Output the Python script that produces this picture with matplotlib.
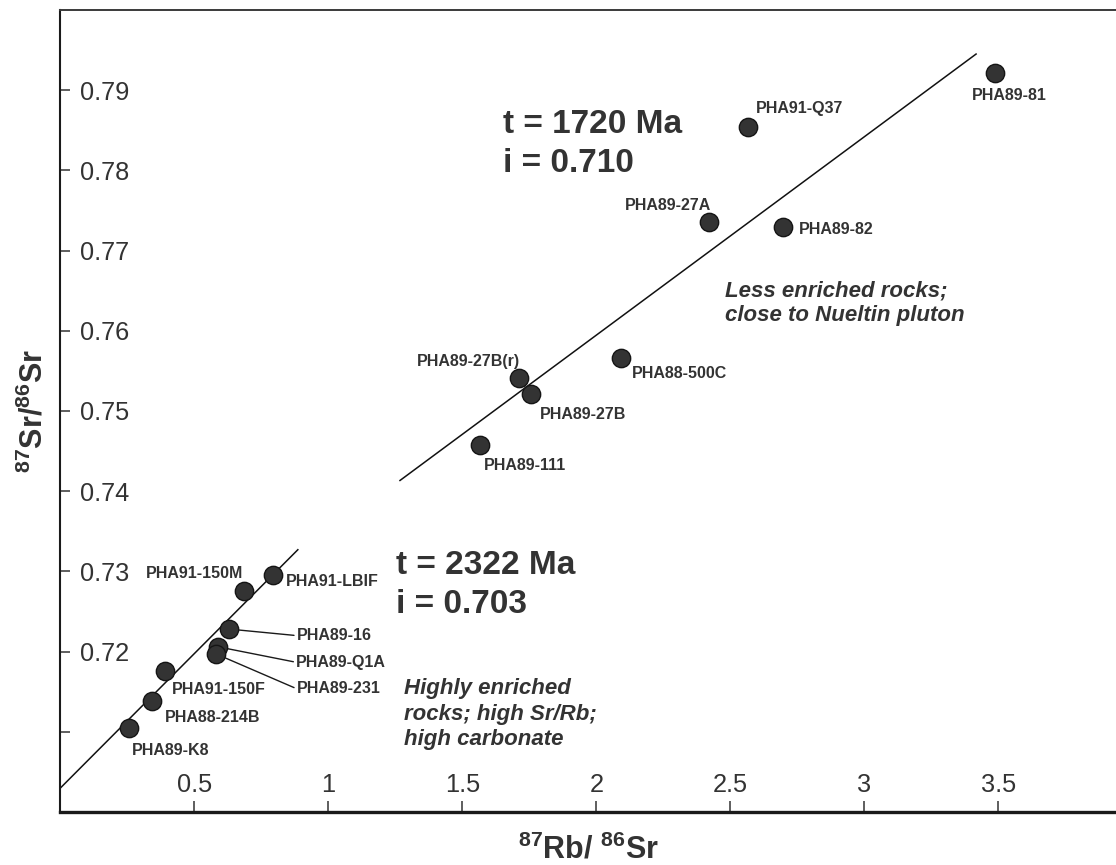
import numpy as np
import matplotlib
matplotlib.use("Agg")
import matplotlib.pyplot as plt

plt.rcParams["font.family"] = ["Liberation Sans", "DejaVu Sans"]
plt.rcParams["mathtext.fontset"] = "custom"
plt.rcParams["mathtext.rm"] = "Liberation Sans"
plt.rcParams["mathtext.bf"] = "Liberation Sans:bold"
plt.rcParams["mathtext.it"] = "Liberation Sans:italic"

# ---- sample data: 87Rb/86Sr and 87Sr/86Sr ----
samples = [
    "PHA89-81", "PHA91-Q37", "PHA89-27A", "PHA89-82", "PHA88-500C",
    "PHA89-27B(r)", "PHA89-27B", "PHA89-111",
    "PHA91-LBIF", "PHA91-150M", "PHA89-16", "PHA89-Q1A", "PHA89-231",
    "PHA91-150F", "PHA88-214B", "PHA89-K8",
]
rb_sr = [3.49, 2.566, 2.42, 2.697, 2.092,
         1.713, 1.755, 1.567,
         0.7925, 0.6866, 0.6306, 0.5873, 0.581,
         0.3907, 0.3433, 0.2575]
sr_sr = [0.7922, 0.7854, 0.7735, 0.7729, 0.7566,
         0.7541, 0.7521, 0.7458,
         0.7295, 0.7275, 0.7228, 0.7206, 0.7197,
         0.7176, 0.7138, 0.7105]

# ---- isochrons (age in Ma, initial ratio) ----
isochron_age_ma = [1720, 2322]
isochron_initial = [0.710, 0.703]
isochron_x_span = [(1.265, 3.42), (0.0, 0.888)]
LAMBDA_RB87 = 1.42e-11  # per year

x_ticks = [0.5, 1, 1.5, 2, 2.5, 3, 3.5]
x_tick_labels = ["0.5", "1", "1.5", "2", "2.5", "3", "3.5"]
y_ticks = [0.71, 0.72, 0.73, 0.74, 0.75, 0.76, 0.77, 0.78, 0.79]
y_tick_labels = ["", "0.72", "0.73", "0.74", "0.75", "0.76", "0.77", "0.78", "0.79"]

# ---- label placement: offset (points), alignment, leader line ----
label_layout = {
    "PHA89-81": (10.1, -15.3, "center", False),
    "PHA91-Q37": (5.8, 14.2, "left", False),
    "PHA89-27A": (1.4, 13.0, "right", False),
    "PHA89-82": (11.5, -0.5, "left", False),
    "PHA88-500C": (7.7, -10.1, "left", False),
    "PHA89-27B(r)": (0.5, 13.2, "right", False),
    "PHA89-27B": (6.9, -13.7, "left", False),
    "PHA89-111": (2.7, -14.2, "left", False),
    "PHA91-LBIF": (9.6, -3.4, "left", False),
    "PHA91-150M": (-0.7, 13.7, "right", False),
    "PHA89-16": (48.5, -3.6, "left", True),
    "PHA89-Q1A": (56.4, -10.1, "left", True),
    "PHA89-231": (58.1, -24.0, "left", True),
    "PHA91-150F": (4.8, -12.2, "left", False),
    "PHA88-214B": (9.1, -10.8, "left", False),
    "PHA89-K8": (1.7, -15.1, "left", False),
}

INK = "#333333"

fig = plt.figure(figsize=(11.16, 8.65), dpi=100)
ax = fig.add_axes([0.0542, 0.0613, 0.9458, 0.9272])
ax.set_xlim(0, 3.94)
ax.set_ylim(0.70, 0.80)

# isochron lines
for age, i0, (x0, x1) in zip(isochron_age_ma, isochron_initial, isochron_x_span):
    slope = np.exp(LAMBDA_RB87 * age * 1e6) - 1.0
    xs = np.array([x0, x1])
    ax.plot(xs, i0 + slope * xs, color="#111111", lw=1.1, zorder=2,
            solid_capstyle="butt")

# samples
ax.plot(rb_sr, sr_sr, linestyle="none", marker="o", markersize=13.2,
        markerfacecolor="#333333", markeredgecolor="#151515",
        markeredgewidth=1.0, zorder=5)

for name, x, y in zip(samples, rb_sr, sr_sr):
    dx, dy, ha, leader = label_layout[name]
    arrow = None
    if leader:
        arrow = dict(arrowstyle="-", color="#1a1a1a", lw=1.0,
                     shrinkA=0, shrinkB=0, relpos=(0.0, 0.5))
    ax.annotate(name, xy=(x, y), xytext=(dx, dy), textcoords="offset points",
                ha=ha, va="center_baseline", fontsize=11.5, fontweight="bold",
                color=INK, arrowprops=arrow, zorder=3)

# isochron annotations (anchored at the baseline of the last line)
for age, i0, pos in zip(isochron_age_ma, isochron_initial,
                        [(0.4192, 0.798), (0.3174, 0.2481)]):
    ax.text(pos[0], pos[1], f"t = {age} Ma\ni = {i0:.3f}",
            transform=ax.transAxes, ha="left", va="baseline",
            fontsize=24, fontweight="bold", color=INK, linespacing=1.35)

ax.text(0.6296, 0.6118, "Less enriched rocks;\nclose to Nueltin pluton",
        transform=ax.transAxes, ha="left", va="baseline", fontsize=16,
        fontweight="bold", fontstyle="italic", color=INK, linespacing=1.23)
ax.text(0.3259, 0.0839, "Highly enriched\nrocks; high Sr/Rb;\nhigh carbonate",
        transform=ax.transAxes, ha="left", va="baseline", fontsize=16,
        fontweight="bold", fontstyle="italic", color=INK, linespacing=1.26)

# axes styling
ax.spines["right"].set_visible(False)
ax.spines["left"].set_linewidth(1.5)
ax.spines["left"].set_color("#1a1a1a")
ax.spines["bottom"].set_linewidth(2.4)
ax.spines["bottom"].set_color("#1a1a1a")
ax.spines["top"].set_linewidth(1.4)
ax.spines["top"].set_color("#3a3a3a")

ax.set_xticks(x_ticks, x_tick_labels)
ax.set_yticks(y_ticks, y_tick_labels)
ax.tick_params(axis="x", direction="in", length=8, width=1.1, color=INK,
               labelsize=18.3, labelcolor=INK, pad=-14.4)
ax.tick_params(axis="y", direction="in", length=7.2, width=1.1, color=INK,
               labelsize=18.3, labelcolor=INK, pad=-14.4)
for lab in ax.get_xticklabels():
    lab.set_va("baseline")
for lab in ax.get_yticklabels():
    lab.set_ha("left")

ax.set_xlabel(r"$^{\mathbf{87}}$Rb/ $^{\mathbf{86}}$Sr", fontsize=22,
              fontweight="bold", color=INK)
ax.xaxis.label.set_va("baseline")
ax.xaxis.set_label_coords(0.5, -0.0574)
ax.set_ylabel(r"$^{\mathbf{87}}$Sr/$^{\mathbf{86}}$Sr", fontsize=22,
              fontweight="bold", color=INK)
ax.yaxis.set_label_coords(-0.0102, 0.5)

fig.savefig("out.png", dpi=100, facecolor="white")
